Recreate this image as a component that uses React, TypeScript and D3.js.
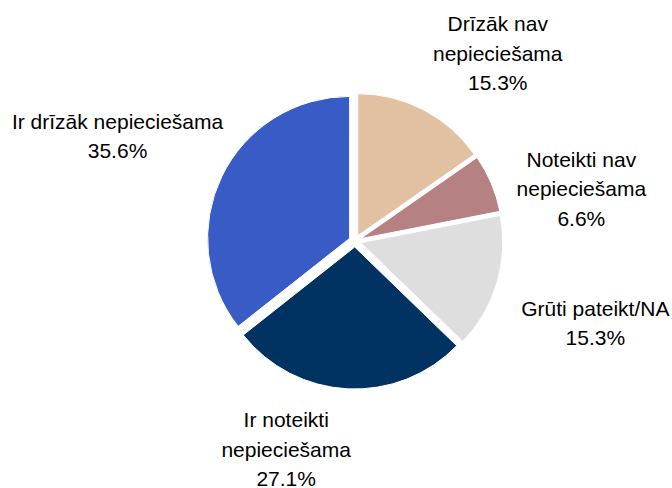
import { useRef, useEffect } from 'react';
import * as d3 from 'd3';

// slices go clockwise from 12 o'clock
const categories = [
  ['Drīzāk nav', 'nepieciešama'],
  ['Noteikti nav', 'nepieciešama'],
  ['Grūti pateikt/NA'],
  ['Ir noteikti', 'nepieciešama'],
  ['Ir drīzāk nepieciešama'],
];
const values = [15.3, 6.6, 15.3, 27.1, 35.6];
const colors = ['#E2C0A2', '#B58182', '#DEDEDE', '#003262', '#385BC6'];

// label placement tweaks (dx, dy) from the label arc
const labelNudge = [
  [34, 21],
  [10, 40],
  [15, 16],
  [-57, -26],
  [-26, -2],
];

export default function App() {
  const svgRef = useRef<SVGSVGElement>(null);

  useEffect(() => {
    const width = 672;
    const height = 488;
    const cx = 355;
    const cy = 241;
    const radius = 142;
    const explode = 6;
    const labelR = 235;
    const lineH = 29.5;

    const svg = d3.select(svgRef.current);
    svg.selectAll('*').remove();
    svg.attr('width', width).attr('height', height);

    const data = values.map((v, i) => ({ value: v, lines: categories[i], color: colors[i], i }));

    const pie = d3.pie<any>().sort(null).value(d => d.value);
    const arc = d3.arc<any>().innerRadius(0).outerRadius(radius);
    const arcs = pie(data);

    const g = svg.append('g').attr('transform', `translate(${cx},${cy})`);

    g.selectAll('path')
      .data(arcs)
      .enter()
      .append('path')
      .attr('d', arc)
      .attr('fill', d => d.data.color)
      .attr('stroke', '#fff')
      .attr('stroke-width', 1)
      .attr('transform', d => {
        const a = (d.startAngle + d.endAngle) / 2;
        return `translate(${explode * Math.sin(a)},${-explode * Math.cos(a)})`;
      });

    const labels = g.selectAll('text.lbl')
      .data(arcs)
      .enter()
      .append('text')
      .attr('class', 'lbl')
      .attr('text-anchor', 'middle')
      .style('font-family', '"Liberation Sans", Arial, sans-serif')
      .style('font-size', '21px')
      .attr('fill', '#000')
      .each(function (d) {
        const a = (d.startAngle + d.endAngle) / 2;
        const [nx, ny] = labelNudge[d.data.i];
        const x = labelR * Math.sin(a) + nx;
        const yc = -labelR * Math.cos(a) + ny;
        const lines = [...d.data.lines, `${d.data.value.toFixed(1)}%`];
        const y0 = yc - ((lines.length - 1) * lineH) / 2 + 7;
        const t = d3.select(this);
        lines.forEach((ln, k) => {
          t.append('tspan').attr('x', x).attr('y', y0 + k * lineH).text(ln);
        });
      });
    void labels;
  }, []);

  return (
    <svg ref={svgRef} style={{ position: 'absolute', left: 0, top: 0, background: '#fff' }} />
  );
}
